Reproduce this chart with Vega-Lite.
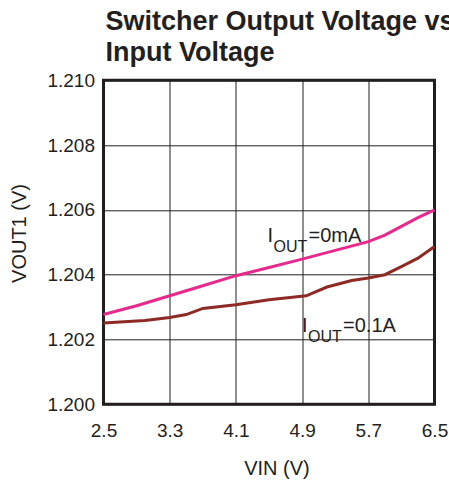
{
  "$schema": "https://vega.github.io/schema/vega-lite/v6.json",
  "width": 331,
  "height": 324,
  "autosize": {"type": "none"},
  "padding": {"left": 103.5, "top": 80.3, "right": 14.5, "bottom": 75.7},
  "background": "white",
  "title": {
    "text": ["Switcher Output Voltage vs", "Input Voltage"],
    "anchor": "start",
    "frame": "group",
    "font": "Liberation Sans",
    "fontSize": 27,
    "fontWeight": "bold",
    "color": "#231F20",
    "lineHeight": 31,
    "offset": 4,
    "dx": 2
  },
  "config": {
    "font": "Liberation Sans",
    "view": {"stroke": "#231F20", "strokeWidth": 3},
    "axis": {
      "grid": true,
      "gridColor": "#231F20",
      "gridWidth": 1,
      "gridOpacity": 1,
      "domain": false,
      "ticks": false,
      "tickSize": 0,
      "labelFontSize": 19,
      "labelColor": "#231F20",
      "labelOverlap": false,
      "labelFlush": false,
      "titleFontSize": 20,
      "titleFontWeight": "normal",
      "titleColor": "#231F20"
    }
  },
  "datasets": {
    "curves": [
      {"series": "0mA", "vin": 2.5, "vout": 1.20277},
      {"series": "0mA", "vin": 2.9, "vout": 1.20304},
      {"series": "0mA", "vin": 3.3, "vout": 1.20335},
      {"series": "0mA", "vin": 3.7, "vout": 1.20366},
      {"series": "0mA", "vin": 4.1, "vout": 1.20397},
      {"series": "0mA", "vin": 4.5, "vout": 1.20422},
      {"series": "0mA", "vin": 4.9, "vout": 1.20448},
      {"series": "0mA", "vin": 5.3, "vout": 1.20475},
      {"series": "0mA", "vin": 5.7, "vout": 1.20502},
      {"series": "0mA", "vin": 5.9, "vout": 1.20522},
      {"series": "0mA", "vin": 6.1, "vout": 1.20549},
      {"series": "0mA", "vin": 6.3, "vout": 1.20576},
      {"series": "0mA", "vin": 6.5, "vout": 1.20600},
      {"series": "0.1A", "vin": 2.5, "vout": 1.20251},
      {"series": "0.1A", "vin": 3.0, "vout": 1.20259},
      {"series": "0.1A", "vin": 3.3, "vout": 1.20268},
      {"series": "0.1A", "vin": 3.5, "vout": 1.20277},
      {"series": "0.1A", "vin": 3.7, "vout": 1.20296},
      {"series": "0.1A", "vin": 4.1, "vout": 1.20307},
      {"series": "0.1A", "vin": 4.5, "vout": 1.20323},
      {"series": "0.1A", "vin": 4.95, "vout": 1.20335},
      {"series": "0.1A", "vin": 5.2, "vout": 1.20362},
      {"series": "0.1A", "vin": 5.5, "vout": 1.20382},
      {"series": "0.1A", "vin": 5.7, "vout": 1.20390},
      {"series": "0.1A", "vin": 5.9, "vout": 1.20400},
      {"series": "0.1A", "vin": 6.1, "vout": 1.20425},
      {"series": "0.1A", "vin": 6.3, "vout": 1.20451},
      {"series": "0.1A", "vin": 6.5, "vout": 1.20487}
    ],
    "labels": [
      {"vin": 4.482, "vout": 1.20502, "main": "I", "sub": "OUT", "rest": "=0mA"},
      {"vin": 4.899, "vout": 1.20222, "main": "I", "sub": "OUT", "rest": "=0.1A"}
    ]
  },
  "encoding": {
    "x": {
      "field": "vin",
      "type": "quantitative",
      "scale": {"domain": [2.5, 6.5], "nice": false, "zero": false},
      "axis": {
        "values": [2.5, 3.3, 4.1, 4.9, 5.7, 6.5],
        "format": ".1f",
        "labelPadding": 17,
        "title": "VIN (V)",
        "titleX": 173,
        "titleY": 70,
        "titleAlign": "center",
        "titleBaseline": "alphabetic"
      }
    },
    "y": {
      "field": "vout",
      "type": "quantitative",
      "scale": {"domain": [1.2, 1.21], "nice": false, "zero": false},
      "axis": {
        "values": [1.2, 1.202, 1.204, 1.206, 1.208, 1.21],
        "format": ".3f",
        "labelPadding": 9,
        "title": "VOUT1 (V)",
        "titleAngle": -90,
        "titleX": -78.5,
        "titleY": 152.7,
        "titleAlign": "center",
        "titleBaseline": "alphabetic"
      }
    }
  },
  "layer": [
    {
      "data": {"name": "curves"},
      "mark": {"type": "line", "strokeWidth": 3, "interpolate": "linear"},
      "encoding": {
        "color": {
          "field": "series",
          "type": "nominal",
          "scale": {"domain": ["0mA", "0.1A"], "range": ["#E8298C", "#8E2A24"]},
          "legend": null
        }
      }
    },
    {
      "data": {"name": "labels"},
      "mark": {"type": "text", "align": "left", "baseline": "alphabetic", "fontSize": 20, "color": "#231F20"},
      "encoding": {"text": {"field": "main"}}
    },
    {
      "data": {"name": "labels"},
      "mark": {"type": "text", "align": "left", "baseline": "alphabetic", "fontSize": 16, "dx": 6, "dy": 10, "color": "#231F20"},
      "encoding": {"text": {"field": "sub"}}
    },
    {
      "data": {"name": "labels"},
      "mark": {"type": "text", "align": "left", "baseline": "alphabetic", "fontSize": 20, "dx": 41, "color": "#231F20"},
      "encoding": {"text": {"field": "rest"}}
    }
  ]
}
